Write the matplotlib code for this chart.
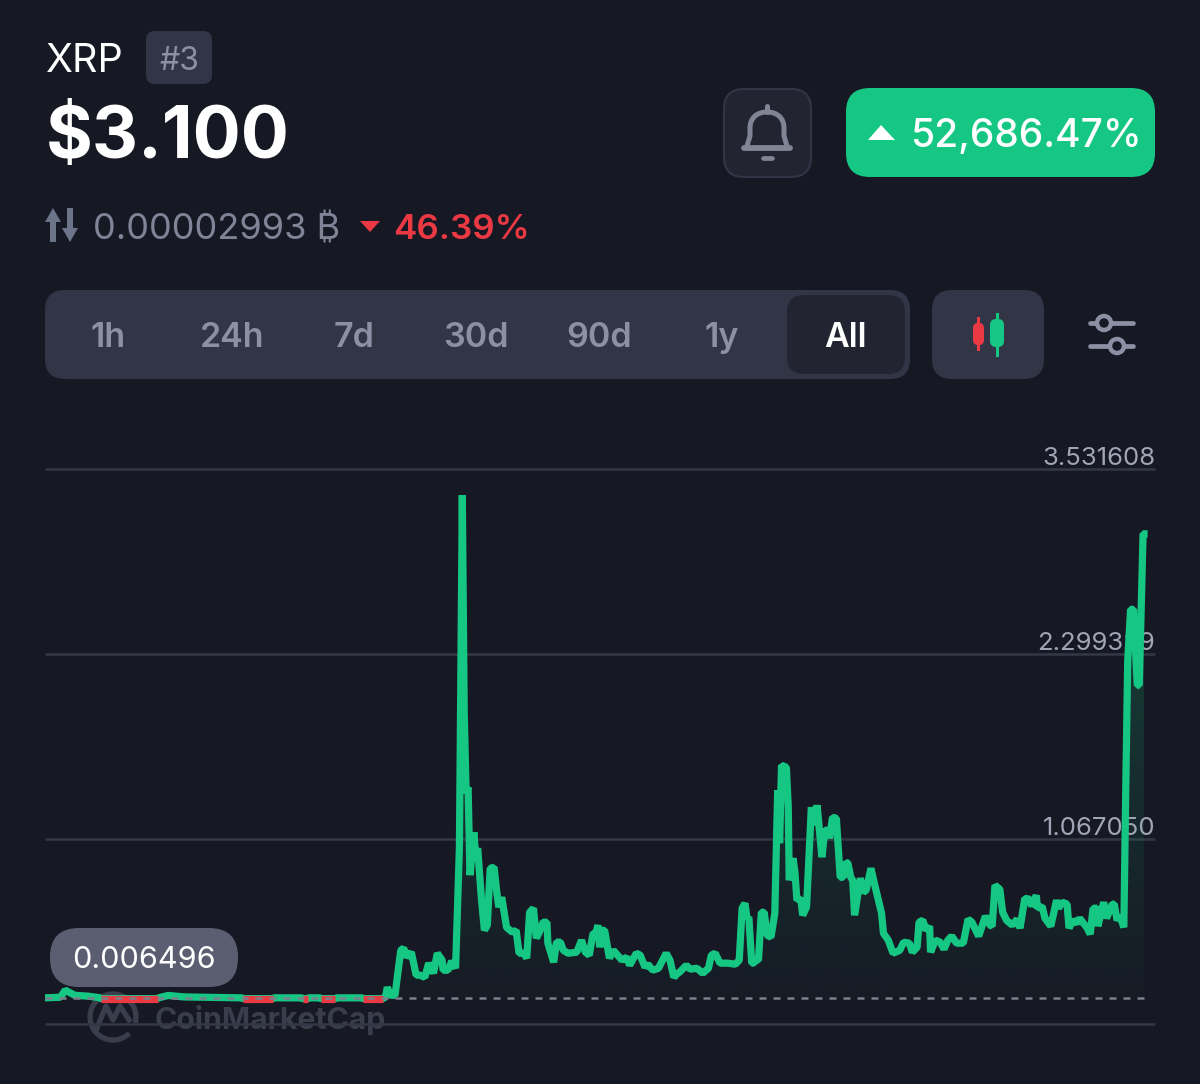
import matplotlib
matplotlib.use("Agg")
import matplotlib.pyplot as plt
import matplotlib.patches as mpatches
from matplotlib.path import Path
import numpy as np

plt.rcParams['font.family'] = ['Inter', 'DejaVu Sans']

# price history
years = [
    2013.60, 2013.76, 2013.81, 2013.91, 2014.05, 2014.17, 2014.18, 2014.77, 2014.78, 2014.82, 2014.88, 2015.05,
    2015.50, 2015.65, 2015.66, 2015.97, 2015.98, 2016.27, 2016.28, 2016.33, 2016.34, 2016.46, 2016.47, 2016.62,
    2016.63, 2016.90, 2016.91, 2017.11, 2017.14, 2017.16, 2017.19, 2017.24, 2017.30, 2017.33, 2017.36, 2017.41,
    2017.46, 2017.50, 2017.55, 2017.59, 2017.64, 2017.68, 2017.73, 2017.74, 2017.79, 2017.83, 2017.87, 2017.91,
    2017.94, 2017.96, 2017.98, 2018.00, 2018.02, 2018.06, 2018.08, 2018.10, 2018.14, 2018.17, 2018.20, 2018.23,
    2018.27, 2018.30, 2018.32, 2018.35, 2018.40, 2018.46, 2018.50, 2018.53, 2018.58, 2018.61, 2018.64, 2018.68,
    2018.71, 2018.74, 2018.78, 2018.82, 2018.83, 2018.89, 2018.92, 2018.96, 2018.99, 2019.04, 2019.13, 2019.18,
    2019.22, 2019.26, 2019.30, 2019.33, 2019.35, 2019.37, 2019.40, 2019.42, 2019.47, 2019.51, 2019.60, 2019.65,
    2019.68, 2019.75, 2019.79, 2019.84, 2019.87, 2019.92, 2019.98, 2020.06, 2020.10, 2020.14, 2020.18, 2020.20,
    2020.27, 2020.31, 2020.38, 2020.44, 2020.50, 2020.53, 2020.57, 2020.62, 2020.70, 2020.78, 2020.82, 2020.85,
    2020.88, 2020.90, 2020.92, 2020.95, 2020.97, 2020.99, 2021.02, 2021.05, 2021.08, 2021.11, 2021.15, 2021.19,
    2021.22, 2021.24, 2021.26, 2021.31, 2021.33, 2021.34, 2021.38, 2021.40, 2021.42, 2021.46, 2021.48, 2021.52,
    2021.57, 2021.60, 2021.63, 2021.68, 2021.71, 2021.74, 2021.76, 2021.79, 2021.83, 2021.87, 2021.90, 2021.93,
    2021.95, 2021.98, 2022.00, 2022.02, 2022.08, 2022.11, 2022.14, 2022.19, 2022.23, 2022.30, 2022.32, 2022.37,
    2022.42, 2022.49, 2022.53, 2022.59, 2022.62, 2022.67, 2022.69, 2022.73, 2022.76, 2022.80, 2022.81, 2022.86,
    2022.91, 2022.95, 2022.99, 2023.03, 2023.08, 2023.15, 2023.20, 2023.24, 2023.27, 2023.31, 2023.38, 2023.43,
    2023.45, 2023.48, 2023.53, 2023.56, 2023.60, 2023.66, 2023.71, 2023.74, 2023.79, 2023.84, 2023.86, 2023.91,
    2023.92, 2023.97, 2024.00, 2024.06, 2024.12, 2024.14, 2024.18, 2024.23, 2024.25, 2024.29, 2024.33, 2024.36,
    2024.44, 2024.47, 2024.50, 2024.54, 2024.55, 2024.61, 2024.64, 2024.70, 2024.72, 2024.75, 2024.78, 2024.82,
    2024.84, 2024.86, 2024.89, 2024.92, 2024.96, 2024.98, 2025.02, 2025.03,
]
prices = [
    .009, .013, .060, .026, .020, .010, .004, .004, .009, .015, .025, .015,
    .010, .009, .004, .004, .009, .009, .004, .004, .009, .009, .004, .004,
    .009, .009, .004, .004, .013, .080, .026, .026, .326, .340, .280, .313,
    .160, .160, .146, .240, .173, .306, .260, .193, .193, .253, .206, 1.012,
    3.357, 1.905, 1.372, 1.412, .826, 1.112, .946, 1.006, .659, .459, .493, .872,
    .879, .706, .613, .679, .479, .446, .459, .306, .306, .273, .579, .606,
    .406, .446, .513, .513, .373, .246, .380, .380, .326, .306, .313, .393,
    .313, .293, .439, .439, .493, .346, .459, .459, .273, .326, .260, .280,
    .226, .306, .293, .213, .233, .193, .206, .306, .260, .146, .173, .180,
    .226, .200, .206, .173, .206, .293, .306, .240, .240, .233, .260, .606,
    .639, .539, .546, .240, .240, .260, .260, .579, .579, .426, .413, .573,
    1.392, 1.039, 1.558, 1.545, 1.279, .792, .939, .839, .659, .672, .559, .613,
    1.279, 1.159, 1.292, .946, 1.125, 1.125, 1.072, 1.212, 1.205, .812, .812, .912,
    .906, .812, .792, .559, .806, .712, .726, .872, .759, .573, .439, .393,
    .306, .326, .380, .373, .313, .346, .513, .526, .459, .486, .313, .393,
    .380, .333, .393, .420, .373, .373, .533, .513, .473, .420, .553, .493,
    .486, .759, .732, .579, .526, .493, .533, .473, .672, .666, .619, .692,
    .606, .619, .539, .486, .659, .606, .646, .633, .473, .526, .506, .539,
    .473, .433, .606, .606, .486, .646, .539, .633, .633, .526, .553, .479,
    1.405, 2.251, 2.597, 2.597, 2.091, 2.091, 3.100, 3.100,
]
grid_values = [3.531608, 2.299329, 1.067050, -0.165229]
grid_labels = ["3.531608", "2.299329", "1.067050"]
first_price = 0.006496
tab_labels = ["1h", "24h", "7d", "30d", "90d", "1y", "All"]

BG = "#161823"
PANEL = "#323546"
DARK = "#222531"
GREEN = "#16c784"
RED = "#ea3943"
GREY = "#8c90a4"
WIDTH, HEIGHT = 1200, 1084


def box(ax, x0, y0, x1, y1, r, **kw):
    p = mpatches.FancyBboxPatch((x0 + r, y0 + r), x1 - x0 - 2 * r, y1 - y0 - 2 * r,
                                boxstyle=f"round,pad={r},rounding_size={r}", **kw)
    ax.add_patch(p)
    return p


fig = plt.figure(figsize=(WIDTH / 100, HEIGHT / 100), dpi=100, facecolor=BG)

# pixel canvas for the app chrome, sits under the chart
ui = fig.add_axes([0, 0, 1, 1], zorder=0)
ui.set_xlim(0, WIDTH)
ui.set_ylim(HEIGHT, 0)
ui.axis("off")

# header
ui.text(46, 62, "XRP", color="white", fontsize=28.5, va="center", ha="left")
box(ui, 146, 31, 212, 84, 9, fc=PANEL, ec="none")
ui.text(179, 62, "#3", color=GREY, fontsize=23, va="center", ha="center")
ui.text(46, 139, "$3.100", color="white", fontsize=51.5, va="center", ha="left", fontweight="bold")

# swap arrows, btc price and change
ui.add_patch(mpatches.Polygon([(45, 222), (53, 208), (61, 222), (56, 222), (56, 242), (50, 242), (50, 222)],
                              fc="#6b7488", ec="none"))
ui.add_patch(mpatches.Polygon([(62, 228), (70, 242), (78, 228), (73, 228), (73, 208), (67, 208), (67, 228)],
                              fc="#6b7488", ec="none"))
ui.text(93, 230, "0.00002993 ₿", color="#7f8496", fontsize=26, va="center", ha="left")
ui.add_patch(mpatches.Polygon([(360, 221), (380, 221), (370, 232)], fc=RED, ec="none"))
ui.text(393, 230, "46.39%", color=RED, fontsize=25.2, va="center", ha="left", fontweight="semibold")

# bell button
box(ui, 724, 89, 811, 177, 20, fc=DARK, ec=PANEL, lw=1.5)
bell = Path([(747, 146), (750, 136), (750, 128), (750, 118), (757, 112), (767, 112), (777, 112), (784, 118), (784, 128),
             (784, 136), (787, 146)],
            [Path.MOVETO, Path.LINETO, Path.LINETO, Path.CURVE4, Path.CURVE4, Path.CURVE4, Path.CURVE4, Path.CURVE4,
             Path.CURVE4, Path.LINETO, Path.LINETO])
ui.add_patch(mpatches.PathPatch(bell, fc="none", ec="#808495", lw=3.6))
ui.plot([744, 790], [148, 148], color="#808495", lw=4.2, solid_capstyle="round")
ui.plot([767, 767], [106, 112], color="#808495", lw=3.6, solid_capstyle="round")
ui.plot([763, 772], [158, 158], color="#808495", lw=3.4, solid_capstyle="round")

# total change badge
box(ui, 846, 88, 1155, 177, 24, fc=GREEN, ec="none")
ui.add_patch(mpatches.Polygon([(868, 140), (895, 140), (881, 125)], fc="white", ec="none"))
ui.text(910, 137, "52,686.47%", color="white", fontsize=28, va="center", ha="left", fontweight="medium")

# range tabs
box(ui, 45, 290, 910, 379, 20, fc=PANEL, ec="none")
box(ui, 787, 295, 905, 374, 17, fc=DARK, ec="none")
tab_x = np.array([108, 232, 354, 476, 599, 722, 845])
for x, label in zip(tab_x, tab_labels):
    ui.text(x, 338, label, color="white" if label == "All" else GREY, fontsize=24.5,
            va="center", ha="center", fontweight="semibold")

# candle button
box(ui, 932, 290, 1044, 379, 20, fc=PANEL, ec="none")
ui.plot([978, 978], [318, 349], color=RED, lw=2.2)
box(ui, 973, 323, 984, 345, 5, fc=RED, ec="none")
ui.plot([997, 997], [314, 355], color=GREEN, lw=2.2)
box(ui, 990, 319, 1004, 347, 6, fc=GREEN, ec="none")

# settings sliders
for y, cx in [(323, 1104), (346, 1117)]:
    ui.plot([1090, cx], [y, y], color=GREY, lw=3.4, solid_capstyle="round")
    ui.plot([cx, 1133], [y, y], color=GREY, lw=3.4, solid_capstyle="round")
    ui.add_patch(mpatches.Circle((cx, y), 7, fc=BG, ec=GREY, lw=3.2, zorder=3))

# watermark
mark = "#3a3d4b"
ui.add_patch(mpatches.Arc((113, 1017), 46, 46, theta1=45, theta2=375, ec=mark, lw=3.8))
ui.plot([97, 106, 113, 120, 129], [1028, 1006, 1020, 1006, 1020], color=mark, lw=3.8)
ui.text(155, 1020, "CoinMarketCap", color=mark, fontsize=21.8, va="center", ha="left", fontweight="bold")

# chart
ax = fig.add_axes([45 / WIDTH, 1 - 1024 / HEIGHT, 1110 / WIDTH, 555 / HEIGHT], zorder=1)
ax.patch.set_alpha(0)
ax.set_xlim(2013.60, 2025.144)
ax.set_ylim(grid_values[-1], grid_values[0])
for s in ax.spines.values():
    s.set_visible(False)
ax.set_xticks([])
ax.set_yticks(grid_values)
ax.tick_params(left=False, labelleft=False)
ax.grid(axis="y", color="#343746", lw=1.8, clip_on=False, solid_capstyle="butt")
ax.set_axisbelow(True)

for v, label in zip(grid_values, grid_labels):
    ax.annotate(label, xy=(1, v), xycoords=("axes fraction", "data"), xytext=(0, -0.5), textcoords="offset points",
                color="#a1a5b5", fontsize=18.5, ha="right", va="bottom")

# soft green gradient under the line
area = ax.fill_between(years, prices, first_price, color="none")
grad = np.zeros((256, 1, 4))
grad[:, 0, :3] = matplotlib.colors.to_rgb(GREEN)
grad[:, 0, 3] = np.linspace(0.24, 0.02, 256)
img = ax.imshow(grad, extent=[2013.60, 2025.144, first_price, 3.1], aspect="auto", origin="upper", zorder=1.5)
img.set_clip_path(area.get_paths()[0], transform=ax.transData)
ax.set_xlim(2013.60, 2025.144)
ax.set_ylim(grid_values[-1], grid_values[0])

ax.plot(years, prices, color=GREEN, lw=5.2, solid_joinstyle="bevel", zorder=3)

# stretches below the opening price turn red
p = np.array(prices)
for i in range(len(p) - 1):
    if p[i] < first_price and p[i + 1] < first_price:
        ax.plot(years[i:i + 2], p[i:i + 2], color=RED, lw=5.2, solid_capstyle="butt", zorder=3.1)

ax.plot([2013.60, 2025.03], [first_price, first_price], color="#7c7f8c", lw=1.8, dashes=(2.8, 2.8), zorder=3.2)

# opening price pill
box(ax, 50, 928, 238, 987, 29, fc="#5a5e70", ec="none", transform=ui.transData, zorder=5, clip_on=False)
ax.text(144, 960, "0.006496", color="white", fontsize=22, va="center", ha="center", transform=ui.transData, zorder=6)

fig.savefig("out.png", dpi=100, facecolor=BG)
